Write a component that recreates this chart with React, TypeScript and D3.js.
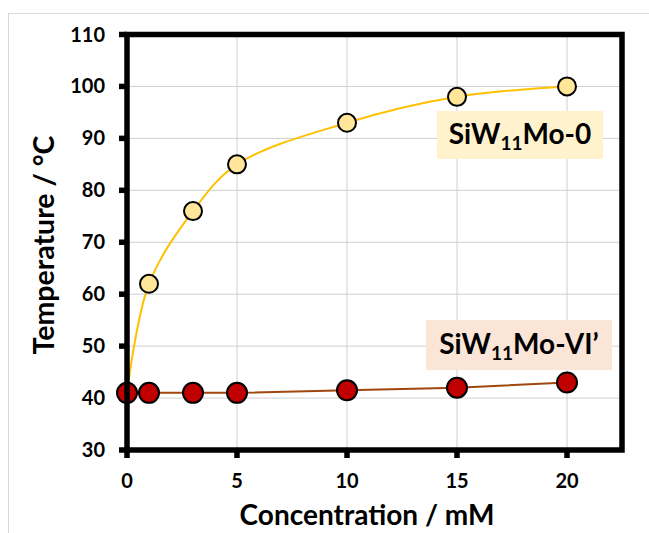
import React from "react";
import * as d3 from "d3";

// concentration (mM)
const concentrations = [0, 1, 3, 5, 10, 15, 20];
// temperature (°C)
const tempMo0 = [41, 62, 76, 85, 93, 98, 100];
const tempMoVI = [41, 41, 41, 41, 41.5, 42, 43];
const xTicks = [0, 5, 10, 15, 20];
const yTicks = [30, 40, 50, 60, 70, 80, 90, 100, 110];

const W = 649;
const H = 533;
const margin = { left: 127, right: 27, top: 34.5, bottom: 83 };
const FONT = "Lato, 'Open Sans', sans-serif";

function Label({ x, y, w, h, fill, tail }) {
    return (
        <g>
            <rect x={x} y={y} width={w} height={h} fill={fill} />
            <text x={x + w / 2} y={y + h / 2 + 9} textAnchor="middle" fontFamily={FONT} fontWeight="bold" fontSize={28} fill="#000">
                SiW
                <tspan fontSize={19} dy={6}>11</tspan>
                <tspan dy={-6}>{tail}</tspan>
            </text>
        </g>
    );
}

export default function App() {
    const x = d3.scaleLinear().domain([0, 22.5]).range([margin.left, W - margin.right]);
    const y = d3.scaleLinear().domain([30, 110]).range([H - margin.bottom, margin.top]);
    const pts0 = concentrations.map((c, i) => [c, tempMo0[i]]);
    const pts6 = concentrations.map((c, i) => [c, tempMoVI[i]]);
    const smooth = d3.line().x(d => x(d[0])).y(d => y(d[1])).curve(d3.curveCatmullRom.alpha(0.5));
    const straight = d3.line().x(d => x(d[0])).y(d => y(d[1]));
    const [x0, x1] = x.range();
    const [yb, yt] = y.range();

    return (
        <svg width={W} height={H} style={{ position: "absolute", left: 0, top: 0 }} fontFamily={FONT}>
            <rect x={0} y={0} width={W} height={H} fill="#fff" />
            <rect x={8.5} y={13.5} width={W} height={H} fill="none" stroke="#d9d9d9" strokeWidth={1} />

            {/* grid */}
            {yTicks.map(t => (
                <line key={"gy" + t} x1={x0} x2={x1} y1={y(t)} y2={y(t)} stroke="#d0d0d0" strokeWidth={1} />
            ))}
            {xTicks.map(t => (
                <line key={"gx" + t} x1={x(t)} x2={x(t)} y1={yt} y2={yb} stroke="#d0d0d0" strokeWidth={1} />
            ))}

            {/* ticks */}
            {yTicks.map(t => (
                <line key={"ty" + t} x1={x0 - 8} x2={x0} y1={y(t)} y2={y(t)} stroke="#000" strokeWidth={5.5} />
            ))}
            {xTicks.map(t => (
                <line key={"tx" + t} x1={x(t)} x2={x(t)} y1={yb} y2={yb + 8} stroke="#000" strokeWidth={5.5} />
            ))}

            {/* lines */}
            <path d={straight(pts6)} fill="none" stroke="#a0470e" strokeWidth={2} />
            <path d={smooth(pts0)} fill="none" stroke="#ffc000" strokeWidth={2} />

            {/* points */}
            {pts0.slice(1).map((d, i) => (
                <circle key={"p0" + i} cx={x(d[0])} cy={y(d[1])} r={9} fill="#ffe699" stroke="#000" strokeWidth={2} />
            ))}
            {pts6.map((d, i) => (
                <circle key={"p6" + i} cx={x(d[0])} cy={y(d[1])} r={10} fill="#c00000" stroke="#000" strokeWidth={2} />
            ))}

            {/* frame */}
            <rect x={x0} y={yt} width={x1 - x0} height={yb - yt} fill="none" stroke="#000" strokeWidth={5.5} />

            {/* tick labels */}
            {yTicks.map(t => (
                <text key={"ly" + t} x={105} y={y(t) + 7} textAnchor="end" fontSize={20} fontWeight="bold">{t}</text>
            ))}
            {xTicks.map(t => (
                <text key={"lx" + t} x={x(t)} y={488} textAnchor="middle" fontSize={20} fontWeight="bold">{t}</text>
            ))}

            {/* axis titles */}
            <text x={367} y={525} textAnchor="middle" fontSize={28} fontWeight="bold">Concentration / mM</text>
            <text transform="translate(54,245) rotate(-90)" textAnchor="middle" fontSize={28.5} fontWeight="bold">Temperature / °C</text>

            {/* series labels */}
            <Label x={437} y={111} w={166} h={48} fill="#fff2cc" tail="Mo-0" />
            <Label x={426} y={320} w={186} h={50} fill="#fbe5d6" tail="Mo-VI’" />
        </svg>
    );
}
